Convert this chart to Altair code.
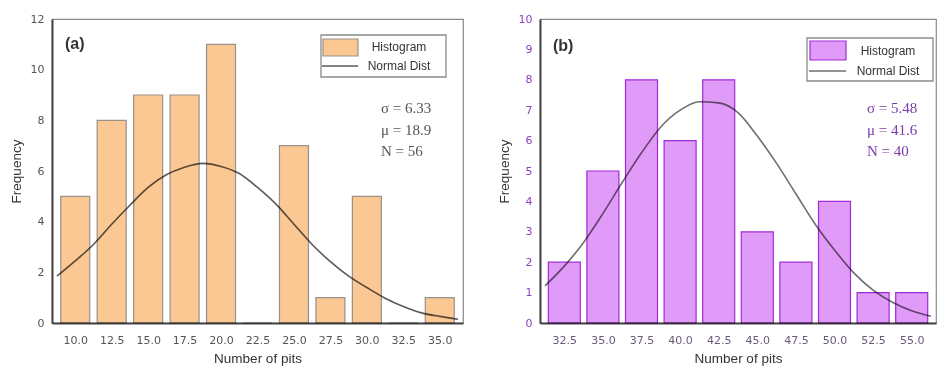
import altair as alt
import pandas as pd

# ---------------- data: panel (a) ----------------
a_bins = [10.0, 12.5, 15.0, 17.5, 20.0, 22.5, 25.0, 27.5, 30.0, 32.5, 35.0]
a_freq = [5, 8, 9, 9, 11, 0, 7, 1, 5, 0, 1]
a_curve_x = [8.75, 10.0, 11.25, 12.5, 13.75, 15.0, 16.25, 17.5, 18.75, 20.0, 21.25, 22.5,
             23.75, 25.0, 26.25, 27.5, 28.75, 30.0, 31.25, 32.5, 33.75, 35.0, 36.25]
a_curve_y = [1.85, 2.45, 3.1, 3.9, 4.65, 5.35, 5.85, 6.15, 6.3, 6.18, 5.9, 5.35,
             4.7, 3.9, 3.1, 2.42, 1.85, 1.4, 0.98, 0.65, 0.4, 0.26, 0.15]
a_stats = ["σ = 6.33", "μ = 18.9", "N = 56"]
a_yticks = [0, 2, 4, 6, 8, 10, 12]

# ---------------- data: panel (b) ----------------
b_bins = [32.5, 35.0, 37.5, 40.0, 42.5, 45.0, 47.5, 50.0, 52.5, 55.0]
b_freq = [2, 5, 8, 6, 8, 3, 2, 4, 1, 1]
b_curve_x = [31.25, 32.5, 33.75, 35.0, 36.25, 37.5, 38.75, 40.0, 41.25, 42.5, 43.75, 45.0,
             46.25, 47.5, 48.75, 50.0, 51.25, 52.5, 53.75, 55.0, 56.25]
b_curve_y = [1.22, 1.87, 2.65, 3.6, 4.62, 5.6, 6.45, 7.0, 7.28, 7.24, 6.92, 6.15,
             5.25, 4.25, 3.25, 2.4, 1.65, 1.08, 0.68, 0.4, 0.22]
b_stats = ["σ = 5.48", "μ = 41.6", "N = 40"]
b_yticks = [0, 1, 2, 3, 4, 5, 6, 7, 8, 9, 10]

legend_labels = ["Histogram", "Normal Dist"]
x_title = "Number of pits"
y_title = "Frequency"

SANS = "Liberation Sans"
TICKS = "DejaVu Sans"
SERIF = "Liberation Serif"
one = pd.DataFrame({"k": [0]})


def panel(tag, bins, freq, cx, cy, stats, yticks, xdomain, ydomain, width, height,
          bar_size, fill, stroke, curve_color, ylab_color, xlab_color, stat_color, leg):
    bars_df = pd.DataFrame({"bin": bins, "freq": freq})
    curve_df = pd.DataFrame({"x": cx, "y": cy})
    xscale = alt.Scale(domain=xdomain, nice=False, zero=False)
    yscale = alt.Scale(domain=ydomain, nice=False, zero=True)
    xaxis = alt.Axis(values=bins, format=".1f", title=x_title, ticks=False, grid=False,
                     labelPadding=11, titlePadding=6, labelColor=xlab_color,
                     labelFont=TICKS, labelFontSize=11, titleFont=SANS, titleFontSize=13.5,
                     titleFontWeight="normal", titleColor="#333", domainColor="#444",
                     domainWidth=2, labelFlush=False)
    yaxis = alt.Axis(values=yticks, title=y_title, ticks=False, grid=False,
                     labelPadding=8, titlePadding=7, labelColor=ylab_color,
                     labelFont=TICKS, labelFontSize=11, titleFont=SANS, titleFontSize=13.5,
                     titleFontWeight="normal", titleColor="#333", domainColor="#444",
                     domainWidth=2)

    curve = alt.Chart(curve_df).mark_line(
        color=curve_color, strokeWidth=1.6, interpolate="monotone"
    ).encode(
        x=alt.X("x:Q", scale=xscale, axis=xaxis),
        y=alt.Y("y:Q", scale=yscale, axis=yaxis),
    )
    bars = alt.Chart(bars_df).mark_bar(
        size=bar_size, fill=fill, stroke=stroke, strokeWidth=1.2, blend="multiply"
    ).encode(
        x=alt.X("bin:Q", scale=xscale, axis=xaxis),
        y=alt.Y("freq:Q", scale=yscale, axis=yaxis),
    )

    (bx0, by0, bx1, by1), (sx0, sy0, sx1, sy1), ly, (tx, ty1, ty2) = leg
    box = alt.Chart(one).mark_rect(fill="white", stroke="#8a8a8a", strokeWidth=1.3).encode(
        x=alt.value(bx0), x2=alt.value(bx1), y=alt.value(by0), y2=alt.value(by1))
    swatch = alt.Chart(one).mark_rect(fill=fill, stroke=stroke, strokeWidth=1.2).encode(
        x=alt.value(sx0), x2=alt.value(sx1), y=alt.value(sy0), y2=alt.value(sy1))
    lline = alt.Chart(one).mark_rule(color=curve_color, strokeWidth=1.6).encode(
        x=alt.value(sx0 - 1), x2=alt.value(sx1), y=alt.value(ly))
    t1 = alt.Chart(one).mark_text(font=SANS, fontSize=12, color="#333", align="center",
                                  baseline="middle").encode(
        x=alt.value(tx), y=alt.value(ty1), text=alt.value(legend_labels[0]))
    t2 = alt.Chart(one).mark_text(font=SANS, fontSize=12, color="#333", align="center",
                                  baseline="middle").encode(
        x=alt.value(tx), y=alt.value(ty2), text=alt.value(legend_labels[1]))
    tag_t = alt.Chart(one).mark_text(font=SANS, fontSize=16, fontWeight="bold", color="#333",
                                     align="left", baseline="middle").encode(
        x=alt.value(13), y=alt.value(tag[1]), text=alt.value(tag[0]))
    stat_t = alt.Chart(one).mark_text(font=SERIF, fontSize=15, color=stat_color, align="left",
                                      baseline="middle", lineHeight=21.5).encode(
        x=alt.value(tag[2]), y=alt.value(89), text=alt.value(stats))

    return alt.layer(curve, bars, box, swatch, lline, t1, t2, tag_t, stat_t).properties(
        width=width, height=height)


left = panel(("(a)", 25, 329), a_bins, a_freq, a_curve_x, a_curve_y, a_stats, a_yticks,
             [8.75, 36.25], [0, 12], 411, 304, 29,
             "#FBC793", "#9a918a", "#5a5a5a", "#555", "#555", "#555",
             ((269, 16, 394, 58), (271, 20, 306, 37), 47, (347, 28, 47)))
right = panel(("(b)", 27, 327), b_bins, b_freq, b_curve_x, b_curve_y, b_stats, b_yticks,
              [31.25, 56.25], [0, 10], 396, 304, 32,
              "#E09AF8", "#A12BD6", "#6e6e6e", "#8f3fc0", "#6a5a7a", "#7a3aa8",
              ((267, 19, 393, 62), (270, 22, 306, 41), 52, (348, 32, 52)))

chart = alt.hconcat(left, right, spacing=32).configure(
    padding={"left": 0, "top": 4, "right": 0, "bottom": 0}
).configure_view(stroke="#8a8a8a", strokeWidth=1.2)

chart.save("out.html", embed_options={"renderer": "svg", "actions": False})
